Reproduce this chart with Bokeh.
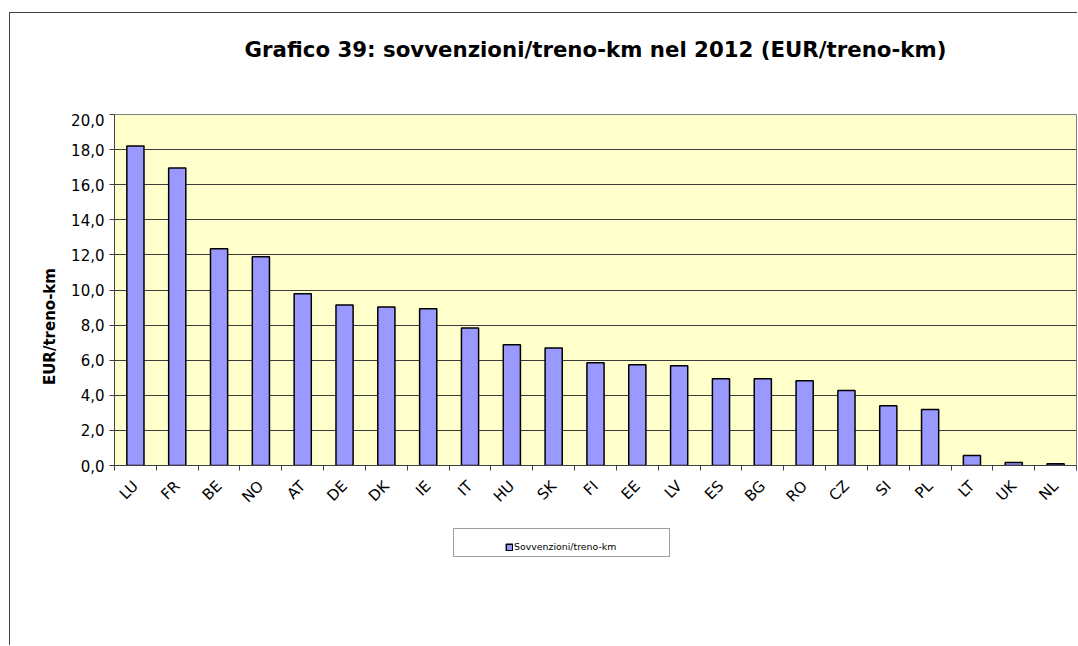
import math
from bokeh.plotting import figure
from bokeh.layouts import column
from bokeh.models import (FactorRange, Range1d, FixedTicker, LinearAxis, CategoricalAxis,
                          Legend, LegendItem, ColumnDataSource)
from bokeh.embed import file_html
from bokeh.resources import INLINE

# ---- data ----
countries = ["LU", "FR", "BE", "NO", "AT", "DE", "DK", "IE", "IT", "HU", "SK", "FI",
             "EE", "LV", "ES", "BG", "RO", "CZ", "SI", "PL", "LT", "UK", "NL"]
values = [18.2, 16.95, 12.35, 11.9, 9.78, 9.15, 9.03, 8.93, 7.83, 6.88, 6.70, 5.86,
          5.74, 5.69, 4.95, 4.95, 4.83, 4.27, 3.40, 3.19, 0.57, 0.17, 0.10]
y_ticks = [0, 2, 4, 6, 8, 10, 12, 14, 16, 18, 20]
y_tick_labels = ["0,0", "2,0", "4,0", "6,0", "8,0", "10,0", "12,0", "14,0", "16,0", "18,0", "20,0"]
title_text = "Grafico 39: sovvenzioni/treno-km nel 2012 (EUR/treno-km)"
y_label = "EUR/treno-km"
series_name = "Sovvenzioni/treno-km"

FONT = "DejaVu Sans"
W = 1067
BAR_STYLE = dict(fill_color="#9999FF", line_color="black", line_width=1.5)

src = ColumnDataSource(dict(x=countries, top=values))

# ---- title strip ----
p0 = figure(width=W, height=100, output_backend="svg", toolbar_location=None,
            x_axis_location=None, y_axis_location=None, min_border_left=104,
            min_border_right=1, min_border_top=0, min_border_bottom=0,
            outline_line_color=None)
p0.xgrid.visible = False
p0.ygrid.visible = False
p0.title.text = title_text
p0.title.align = "center"
p0.title.text_font = FONT
p0.title.text_font_size = "21.3px"
p0.title.text_font_style = "bold"
p0.title.text_color = "black"
p0.title.standoff = 43

# ---- main chart ----
p = figure(width=W, height=410, x_range=FactorRange(*countries), y_range=Range1d(0, 20),
           output_backend="svg", toolbar_location=None, x_axis_location=None,
           min_border_left=104, min_border_right=1, min_border_top=1, min_border_bottom=58)
p.title.visible = False
p.background_fill_color = "#FFFFCC"
p.border_fill_color = "white"
p.outline_line_color = "#808080"
p.outline_line_width = 1

bars = p.vbar(x="x", top="top", width=0.41, source=src, **BAR_STYLE)

p.xgrid.visible = False
p.ygrid.ticker = FixedTicker(ticks=y_ticks)
p.ygrid.grid_line_color = "#3c3c3c"
p.ygrid.grid_line_width = 1

ya = p.yaxis[0]
ya.ticker = FixedTicker(ticks=y_ticks)
ya.major_label_overrides = {t: l for t, l in zip(y_ticks, y_tick_labels)}
ya.major_label_text_font = FONT
ya.major_label_text_font_size = "15px"
ya.major_label_text_color = "black"
ya.major_label_standoff = 5
ya.major_tick_out = 5
ya.major_tick_in = 0
ya.minor_tick_out = 0
ya.minor_tick_in = 0
ya.major_tick_line_color = "#404040"
ya.axis_line_color = "#404040"
ya.axis_label = y_label + "\u00a0" * 14
ya.axis_label_text_font = FONT
ya.axis_label_text_font_size = "15px"
ya.axis_label_text_font_style = "bold"
ya.axis_label_text_color = "black"
ya.axis_label_standoff = 9

tick_axis = LinearAxis(ticker=FixedTicker(ticks=list(range(len(countries) + 1))),
                       major_label_text_font_size="1px", major_label_text_color=None,
                       major_label_standoff=0,
                       major_tick_out=5, major_tick_in=0, minor_tick_out=0, minor_tick_in=0,
                       major_tick_line_color="#404040", axis_line_color="#404040")
p.add_layout(tick_axis, "below")
cat_axis = CategoricalAxis(major_tick_out=0, major_tick_in=0, axis_line_color=None,
                           major_tick_line_color=None,
                           major_label_orientation=math.pi / 4,
                           major_label_text_font=FONT, major_label_text_font_size="15px",
                           major_label_text_color="black", major_label_standoff=13)
p.add_layout(cat_axis, "below")

# ---- legend strip ----
p2 = figure(width=W, height=122, x_range=FactorRange(*countries), y_range=Range1d(1000, 1001),
            output_backend="svg", toolbar_location=None,
            x_axis_location=None, y_axis_location=None, min_border=0,
            outline_line_color=None)
p2.xgrid.visible = False
p2.ygrid.visible = False
p2.title.visible = False
# same series, hidden; used only for the legend swatch
swatch = p2.vbar(x="x", top="top", width=0.41, source=src, **BAR_STYLE)
swatch.visible = False
blank = p2.scatter(x=[], y=[], fill_alpha=0, line_alpha=0)

box = Legend(items=[LegendItem(label=" ", renderers=[blank])],
             location=(339, 88), margin=0, padding=0, spacing=0,
             glyph_width=1, glyph_height=27, label_standoff=0, label_width=214,
             label_height=27, border_line_color="#404040", border_line_width=1,
             background_fill_color="white", background_fill_alpha=1,
             label_text_color=None)
p2.add_layout(box, "center")

leg = Legend(items=[LegendItem(label=series_name, renderers=[swatch])],
             location=(391, 93), margin=0, padding=0, spacing=0,
             glyph_width=8, glyph_height=8, label_standoff=1, label_height=8,
             border_line_alpha=0, background_fill_alpha=0,
             label_text_font=FONT, label_text_font_size="9.4px", label_text_color="black")
p2.add_layout(leg, "center")

layout = column(p0, p, p2, spacing=0,
                styles={"margin-left": "9px", "margin-top": "12px",
                        "border-left": "1px solid #404040", "border-top": "1px solid #404040"})

open("out.html", "w").write(file_html(layout, INLINE))
